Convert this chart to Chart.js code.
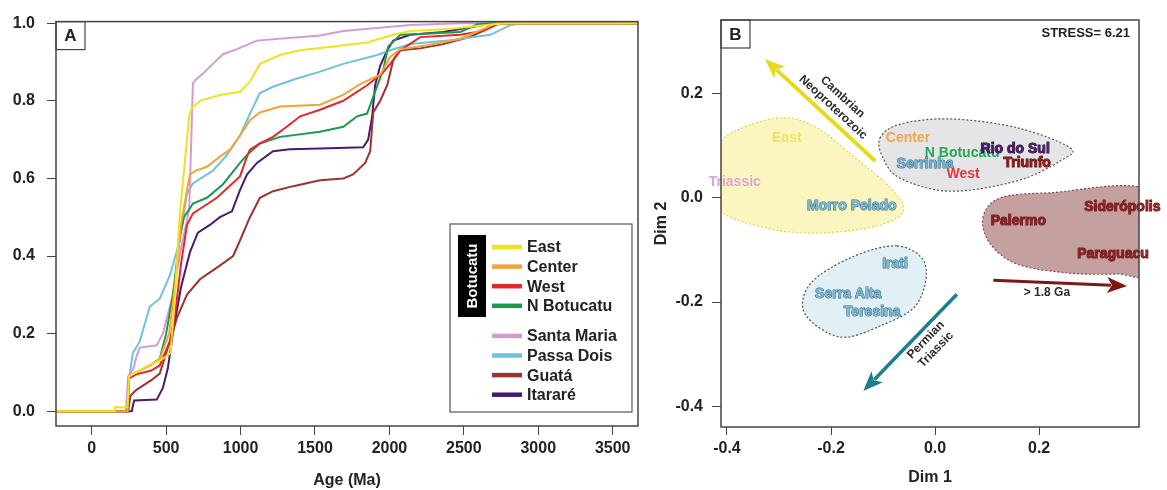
<!DOCTYPE html>
<html>
<head>
<meta charset="utf-8">
<script src="https://cdn.jsdelivr.net/npm/chart.js@4.4.1/dist/chart.umd.min.js"></script>
<style>
  html, body { margin: 0; padding: 0; background: #fff; }
  #wrap { position: relative; width: 1167px; height: 490px; }
  #cA { position: absolute; left: 0; top: 0; }
  #cB { position: absolute; left: 650px; top: 0; }
</style>
</head>
<body>
<div id="wrap">
  <canvas id="cA" width="650" height="490"></canvas>
  <canvas id="cB" width="517" height="490"></canvas>
</div>
<script>
// ---- panel A: cumulative age distributions [age Ma, cumulative proportion]
const ageTicks = [0, 500, 1000, 1500, 2000, 2500, 3000, 3500];
const cdfTicks = [0, 0.2, 0.4, 0.6, 0.8, 1.0];

const east = [[-250,0],[150,0],[155,0.01],[240,0.01],[250,0.09],[300,0.10],[390,0.12],[457,0.13],[530,0.15],[560,0.30],[590,0.50],[620,0.62],[655,0.76],[670,0.78],[727,0.80],[861,0.815],[996,0.823],[1063,0.85],[1130,0.895],[1265,0.918],[1400,0.93],[1622,0.94],[1850,0.95],[2026,0.97],[2140,0.98],[2400,0.985],[2700,0.997],[2800,1],[3700,1]];
const center = [[-250,0],[240,0],[250,0.09],[300,0.10],[400,0.12],[457,0.135],[520,0.2],[560,0.33],[600,0.48],[640,0.57],[660,0.61],[700,0.62],[774,0.63],[861,0.656],[929,0.674],[996,0.71],[1063,0.75],[1130,0.77],[1265,0.785],[1534,0.79],[1690,0.815],[1803,0.843],[1938,0.867],[2005,0.913],[2073,0.933],[2254,0.943],[2476,0.96],[2631,0.985],[2720,1],[3700,1]];
const west = [[-250,0],[240,0],[250,0.085],[300,0.095],[400,0.105],[457,0.118],[525,0.18],[560,0.25],[600,0.38],[640,0.48],[680,0.51],[741,0.525],[841,0.55],[996,0.605],[1043,0.656],[1063,0.674],[1130,0.69],[1218,0.707],[1310,0.733],[1400,0.76],[1534,0.777],[1690,0.80],[1850,0.84],[1951,0.87],[2005,0.895],[2073,0.93],[2207,0.964],[2476,0.97],[2631,0.98],[2720,1],[3700,1]];
const nBotucatu = [[-250,0],[240,0],[250,0.09],[300,0.10],[400,0.12],[457,0.135],[500,0.2],[545,0.3],[592,0.45],[620,0.50],[680,0.535],[774,0.55],[882,0.585],[996,0.64],[1043,0.66],[1130,0.69],[1265,0.707],[1534,0.72],[1690,0.733],[1783,0.76],[1850,0.767],[1891,0.81],[1958,0.88],[1992,0.94],[2073,0.97],[2207,0.972],[2476,0.977],[2590,0.997],[2700,1],[3700,1]];
const santaMaria = [[-250,0],[230,0],[245,0.09],[280,0.11],[300,0.14],[323,0.164],[437,0.17],[478,0.2],[545,0.30],[600,0.42],[655,0.52],[680,0.845],[700,0.855],[747,0.87],[814,0.895],[882,0.92],[976,0.933],[1110,0.955],[1534,0.968],[1690,0.98],[2140,0.995],[2476,1],[3700,1]];
const passaDois = [[-250,0],[240,0],[250,0.08],[276,0.15],[323,0.18],[390,0.27],[457,0.29],[525,0.35],[592,0.44],[639,0.56],[680,0.587],[814,0.62],[908,0.66],[996,0.71],[1063,0.767],[1130,0.82],[1218,0.836],[1353,0.854],[1534,0.875],[1690,0.895],[1918,0.918],[2005,0.93],[2140,0.946],[2409,0.956],[2678,0.97],[2813,0.995],[2900,1],[3700,1]];
const guata = [[-250,0],[245,0],[260,0.04],[300,0.055],[400,0.08],[457,0.097],[505,0.156],[572,0.24],[639,0.30],[727,0.34],[841,0.37],[950,0.40],[996,0.44],[1063,0.50],[1130,0.55],[1218,0.567],[1353,0.58],[1534,0.595],[1690,0.60],[1756,0.61],[1837,0.64],[1871,0.67],[1891,0.77],[1938,0.80],[1985,0.84],[2026,0.905],[2073,0.93],[2207,0.935],[2362,0.946],[2544,0.965],[2631,0.98],[2725,0.997],[2800,1],[3700,1]];
const itarare = [[-250,0],[269,0],[285,0.028],[437,0.03],[478,0.06],[511,0.11],[545,0.2],[600,0.32],[660,0.41],[713,0.46],[794,0.48],[861,0.50],[942,0.515],[996,0.57],[1043,0.61],[1110,0.64],[1218,0.67],[1332,0.675],[1534,0.677],[1824,0.68],[1857,0.70],[1884,0.76],[1904,0.84],[1938,0.89],[1985,0.93],[2026,0.955],[2140,0.97],[2362,0.977],[2631,0.995],[2725,1],[3700,1]];

const seriesNames = ['East', 'Center', 'West', 'N Botucatu', 'Santa Maria', 'Passa Dois', 'Guatá', 'Itararé'];
const seriesData = [east, center, west, nBotucatu, santaMaria, passaDois, guata, itarare];
const seriesColors = ['#f2e21e', '#f0a43a', '#e5262b', '#1b9a4e', '#d69ad2', '#6ec2de', '#9b3431', '#4a1b6b'];
const groupName = 'Botucatu';   // first four series

// ---- panel B: MDS
const dimTicks = [-0.4, -0.2, 0, 0.2];
const mdsNames = ['East', 'Center', 'N Botucatu', 'Rio do Sul', 'Triunfo', 'Serrinha', 'West', 'Triassic', 'Morro Pelado', 'Siderópolis', 'Palermo', 'Paraguacu', 'Irati', 'Serra Alta', 'Teresina'];
const mdsX = [-0.285, -0.052, 0.052, 0.154, 0.177, -0.019, 0.054, -0.385, -0.16, 0.36, 0.16, 0.342, -0.077, -0.167, -0.121];
const mdsY = [0.115, 0.115, 0.087, 0.094, 0.067, 0.065, 0.046, 0.031, -0.015, -0.017, -0.044, -0.108, -0.127, -0.185, -0.219];

const yellowBlob = [[-0.423,0.090],[-0.375,0.133],[-0.292,0.154],[-0.227,0.135],[-0.163,0.085],[-0.1,0.033],[-0.062,-0.012],[-0.073,-0.038],[-0.131,-0.058],[-0.227,-0.067],[-0.323,-0.058],[-0.423,-0.015]];
const greyBlob = [[-0.106,0.115],[-0.067,0.142],[0.029,0.152],[0.158,0.135],[0.26,0.096],[0.24,0.071],[0.158,0.033],[0.029,0.013],[-0.067,0.038],[-0.1,0.077]];
const brownBlob = [[0.092,-0.038],[0.125,0.0],[0.221,0.01],[0.413,0.013],[0.413,-0.14],[0.35,-0.146],[0.254,-0.144],[0.158,-0.127],[0.106,-0.088]];
const blueBlob = [[-0.073,-0.092],[-0.019,-0.127],[-0.035,-0.204],[-0.106,-0.246],[-0.183,-0.267],[-0.25,-0.223],[-0.24,-0.165],[-0.163,-0.115]];

const arrowFrom = [[-0.115, 0.071], [0.042, -0.185], [0.112, -0.158]];
const arrowTo = [[-0.327, 0.267], [-0.138, -0.371], [0.369, -0.169]];
const arrowText = [['Cambrian', 'Neoproterozoic'], ['Permian', 'Triassic'], ['> 1.8 Ga']];
const arrowTextAt = [[-0.187, 0.184], [-0.008, -0.282], [0.215, -0.181]];

const FONT = "'Liberation Sans', Arial, sans-serif";
Chart.defaults.font.family = FONT;
Chart.defaults.font.weight = 'bold';
Chart.defaults.color = '#222';
Chart.defaults.animation = false;

function frameAndTag(ctx, a, tag) {
  ctx.save();
  ctx.strokeStyle = '#444';
  ctx.lineWidth = 1.5;
  ctx.strokeRect(a.left, a.top, a.right - a.left, a.bottom - a.top);
  ctx.lineWidth = 1.2;
  ctx.strokeRect(a.left, a.top, 29, 28);
  ctx.fillStyle = '#222';
  ctx.font = 'bold 17px ' + FONT;
  ctx.textAlign = 'center';
  ctx.textBaseline = 'middle';
  ctx.fillText(tag, a.left + 14.5, a.top + 15);
  ctx.restore();
}

// ---------------- Panel A ----------------
const legendA = {
  id: 'legendA',
  afterDraw(chart) {
    const ctx = chart.ctx, a = chart.chartArea;
    frameAndTag(ctx, a, 'A');
    const L = 450, T = 224, W = 182, H = 188;
    ctx.save();
    ctx.strokeStyle = '#555';
    ctx.lineWidth = 1.2;
    ctx.strokeRect(L, T, W, H);
    ctx.fillStyle = '#000';
    ctx.fillRect(L + 8, T + 11, 28, 82);
    ctx.save();
    ctx.translate(L + 22, T + 52);
    ctx.rotate(-Math.PI / 2);
    ctx.fillStyle = '#fff';
    ctx.font = 'bold 15px ' + FONT;
    ctx.textAlign = 'center';
    ctx.textBaseline = 'middle';
    ctx.fillText(groupName, 0, 1);
    ctx.restore();
    ctx.font = 'bold 16px ' + FONT;
    ctx.textBaseline = 'middle';
    ctx.textAlign = 'left';
    seriesNames.forEach((name, i) => {
      const yy = T + 23 + i * 19.6 + (i >= 4 ? 10.5 : 0);
      ctx.strokeStyle = seriesColors[i];
      ctx.lineWidth = 4.5;
      ctx.beginPath();
      ctx.moveTo(L + 42, yy);
      ctx.lineTo(L + 72, yy);
      ctx.stroke();
      ctx.fillStyle = '#222';
      ctx.fillText(name, L + 77, yy + 1);
    });
    ctx.restore();
  }
};

new Chart(document.getElementById('cA'), {
  type: 'line',
  data: {
    datasets: seriesNames.map((name, i) => ({
      label: name,
      data: seriesData[i].map(p => ({ x: p[0], y: p[1] })),
      borderColor: seriesColors[i],
      borderWidth: 2,
      pointRadius: 0,
      tension: 0,
      fill: false
    }))
  },
  options: {
    responsive: false,
    layout: { padding: { left: 0, right: 12, top: 20, bottom: 0 } },
    plugins: { legend: { display: false }, tooltip: { enabled: false } },
    scales: {
      x: {
        type: 'linear', min: -240, max: 3670,
        afterBuildTicks: s => { s.ticks = ageTicks.map(v => ({ value: v })); },
        afterFit: s => { s.height = 64; },
        grid: { drawOnChartArea: false, drawTicks: true, tickLength: 9, color: '#444' },
        border: { display: false },
        ticks: { padding: 4, autoSkip: false, maxRotation: 0, color: '#222', font: { size: 16, weight: 'bold' }, callback: v => String(v) },
        title: { display: true, text: 'Age (Ma)', color: '#222', font: { size: 16, weight: 'bold' }, padding: 0 }
      },
      y: {
        type: 'linear', min: -0.038, max: 1.004,
        afterBuildTicks: s => { s.ticks = cdfTicks.map(v => ({ value: v })); },
        afterFit: s => { s.width = 56; },
        grid: { drawOnChartArea: false, drawTicks: true, tickLength: 9, color: '#444' },
        border: { display: false },
        ticks: { padding: 12, autoSkip: false, color: '#222', font: { size: 16, weight: 'bold' }, callback: v => v.toFixed(1) }
      }
    }
  },
  plugins: [legendA]
});

// ---------------- Panel B ----------------
const blobs = [yellowBlob, greyBlob, brownBlob, blueBlob];
const blobFill = ['rgba(250,242,170,0.75)', '#e5e5e8', '#c4a0a0', '#e1f0f5'];
const blobEdge = ['#e2d35a', '#555', '#8a4a4a', '#3e5560'];
const mdsColors = ['#f1e166', '#f0a64a', '#22a855', '#4e1d6e', '#8a1b1b', '#72b4d4', '#e8363f', '#d9a6d6', '#7cbad8', '#8b2222', '#8b2222', '#8b2222', '#7cbad8', '#7cbad8', '#7cbad8'];
const mdsOutline = [null, null, null, '#2a1030', '#5a1010', '#3a6a80', null, null, '#3a6a80', '#6a1818', '#6a1818', '#6a1818', '#3a6a80', '#3a6a80', '#3a6a80'];
const arrowColors = ['#e6da1e', '#1f7e8e', '#7d1818'];
const arrowWidths = [4, 3.5, 3];

function closedCurve(ctx, p) {
  const n = p.length;
  ctx.beginPath();
  ctx.moveTo(p[0][0], p[0][1]);
  for (let i = 0; i < n; i++) {
    const p0 = p[(i - 1 + n) % n], p1 = p[i], p2 = p[(i + 1) % n], p3 = p[(i + 2) % n];
    ctx.bezierCurveTo(
      p1[0] + (p2[0] - p0[0]) / 6, p1[1] + (p2[1] - p0[1]) / 6,
      p2[0] - (p3[0] - p1[0]) / 6, p2[1] - (p3[1] - p1[1]) / 6,
      p2[0], p2[1]);
  }
  ctx.closePath();
}

const mdsPlugin = {
  id: 'mds',
  beforeDatasetsDraw(chart) {
    const { ctx, chartArea: a, scales: { x, y } } = chart;
    ctx.save();
    ctx.beginPath();
    ctx.rect(a.left, a.top, a.right - a.left, a.bottom - a.top);
    ctx.clip();
    blobs.forEach((b, i) => {
      const pts = b.map(p => [x.getPixelForValue(p[0]), y.getPixelForValue(p[1])]);
      closedCurve(ctx, pts);
      ctx.fillStyle = blobFill[i];
      ctx.fill();
      ctx.setLineDash([2, 2]);
      ctx.lineWidth = 1.2;
      ctx.strokeStyle = blobEdge[i];
      ctx.stroke();
    });
    ctx.setLineDash([]);
    // arrows
    arrowFrom.forEach((f, i) => {
      const x0 = x.getPixelForValue(f[0]), y0 = y.getPixelForValue(f[1]);
      const x1 = x.getPixelForValue(arrowTo[i][0]), y1 = y.getPixelForValue(arrowTo[i][1]);
      const ang = Math.atan2(y1 - y0, x1 - x0);
      const hl = 20, hw = 8;
      ctx.strokeStyle = arrowColors[i];
      ctx.fillStyle = arrowColors[i];
      ctx.lineWidth = arrowWidths[i];
      ctx.beginPath();
      ctx.moveTo(x0, y0);
      ctx.lineTo(x1 - Math.cos(ang) * (hl - 4), y1 - Math.sin(ang) * (hl - 4));
      ctx.stroke();
      ctx.beginPath();
      ctx.moveTo(x1, y1);
      ctx.lineTo(x1 - Math.cos(ang) * hl + Math.sin(ang) * hw, y1 - Math.sin(ang) * hl - Math.cos(ang) * hw);
      ctx.lineTo(x1 - Math.cos(ang) * (hl - 5), y1 - Math.sin(ang) * (hl - 5));
      ctx.lineTo(x1 - Math.cos(ang) * hl - Math.sin(ang) * hw, y1 - Math.sin(ang) * hl + Math.cos(ang) * hw);
      ctx.closePath();
      ctx.fill();
      // arrow captions, rotated along the shaft
      let rot = ang;
      if (rot > Math.PI / 2) rot -= Math.PI;
      if (rot < -Math.PI / 2) rot += Math.PI;
      if (Math.abs(rot) < 0.2) rot = 0;
      const cx = x.getPixelForValue(arrowTextAt[i][0]), cy = y.getPixelForValue(arrowTextAt[i][1]);
      ctx.save();
      ctx.translate(cx, cy);
      ctx.rotate(rot);
      ctx.fillStyle = '#2a2a2a';
      ctx.font = 'bold 12px ' + FONT;
      ctx.textAlign = 'center';
      ctx.textBaseline = 'middle';
      const lines = arrowText[i];
      lines.forEach((t, k) => ctx.fillText(t, 0, (k - (lines.length - 1) / 2) * 14));
      ctx.restore();
    });
    ctx.restore();
  },
  afterDatasetsDraw(chart) {
    const { ctx, chartArea: a } = chart;
    const meta = chart.getDatasetMeta(0);
    ctx.save();
    ctx.font = 'bold 14px ' + FONT;
    ctx.textAlign = 'center';
    ctx.textBaseline = 'middle';
    ctx.lineJoin = 'round';
    meta.data.forEach((pt, i) => {
      if (mdsOutline[i]) {
        ctx.strokeStyle = mdsOutline[i];
        ctx.lineWidth = 1;
        ctx.strokeText(mdsNames[i], pt.x, pt.y);
      }
      ctx.fillStyle = mdsColors[i];
      ctx.fillText(mdsNames[i], pt.x, pt.y);
    });
    ctx.restore();
    frameAndTag(ctx, a, 'B');
    ctx.save();
    ctx.fillStyle = '#222';
    ctx.font = 'bold 13px ' + FONT;
    ctx.textAlign = 'right';
    ctx.textBaseline = 'middle';
    ctx.fillText('STRESS= 6.21', a.right - 9, a.top + 13);
    ctx.restore();
  }
};

new Chart(document.getElementById('cB'), {
  type: 'scatter',
  data: {
    datasets: [{
      label: 'MDS',
      data: mdsNames.map((n, i) => ({ x: mdsX[i], y: mdsY[i] })),
      pointRadius: 0,
      showLine: false
    }]
  },
  options: {
    responsive: false,
    layout: { padding: { left: 0, right: 28, top: 20, bottom: 0 } },
    plugins: { legend: { display: false }, tooltip: { enabled: false } },
    scales: {
      x: {
        type: 'linear', min: -0.4115, max: 0.392,
        afterBuildTicks: s => { s.ticks = dimTicks.map(v => ({ value: v })); },
        afterFit: s => { s.height = 63; },
        grid: { drawOnChartArea: false, drawTicks: true, tickLength: 8, color: '#444' },
        border: { display: false },
        ticks: { padding: 4, autoSkip: false, maxRotation: 0, color: '#222', font: { size: 16, weight: 'bold' }, callback: v => v.toFixed(1) },
        title: { display: true, text: 'Dim 1', color: '#222', font: { size: 16, weight: 'bold' }, padding: { top: 0, bottom: 3 } }
      },
      y: {
        type: 'linear', min: -0.44, max: 0.342,
        afterBuildTicks: s => { s.ticks = dimTicks.map(v => ({ value: v })); },
        afterFit: s => { s.width = 71; },
        grid: { drawOnChartArea: false, drawTicks: true, tickLength: 9, color: '#444' },
        border: { display: false },
        ticks: { padding: 9, autoSkip: false, color: '#222', font: { size: 16, weight: 'bold' }, callback: v => v.toFixed(1) },
        title: { display: true, text: 'Dim 2', color: '#222', font: { size: 16, weight: 'bold' }, padding: { top: 2, bottom: 0 } }
      }
    }
  },
  plugins: [mdsPlugin]
});
</script>
</body>
</html>
